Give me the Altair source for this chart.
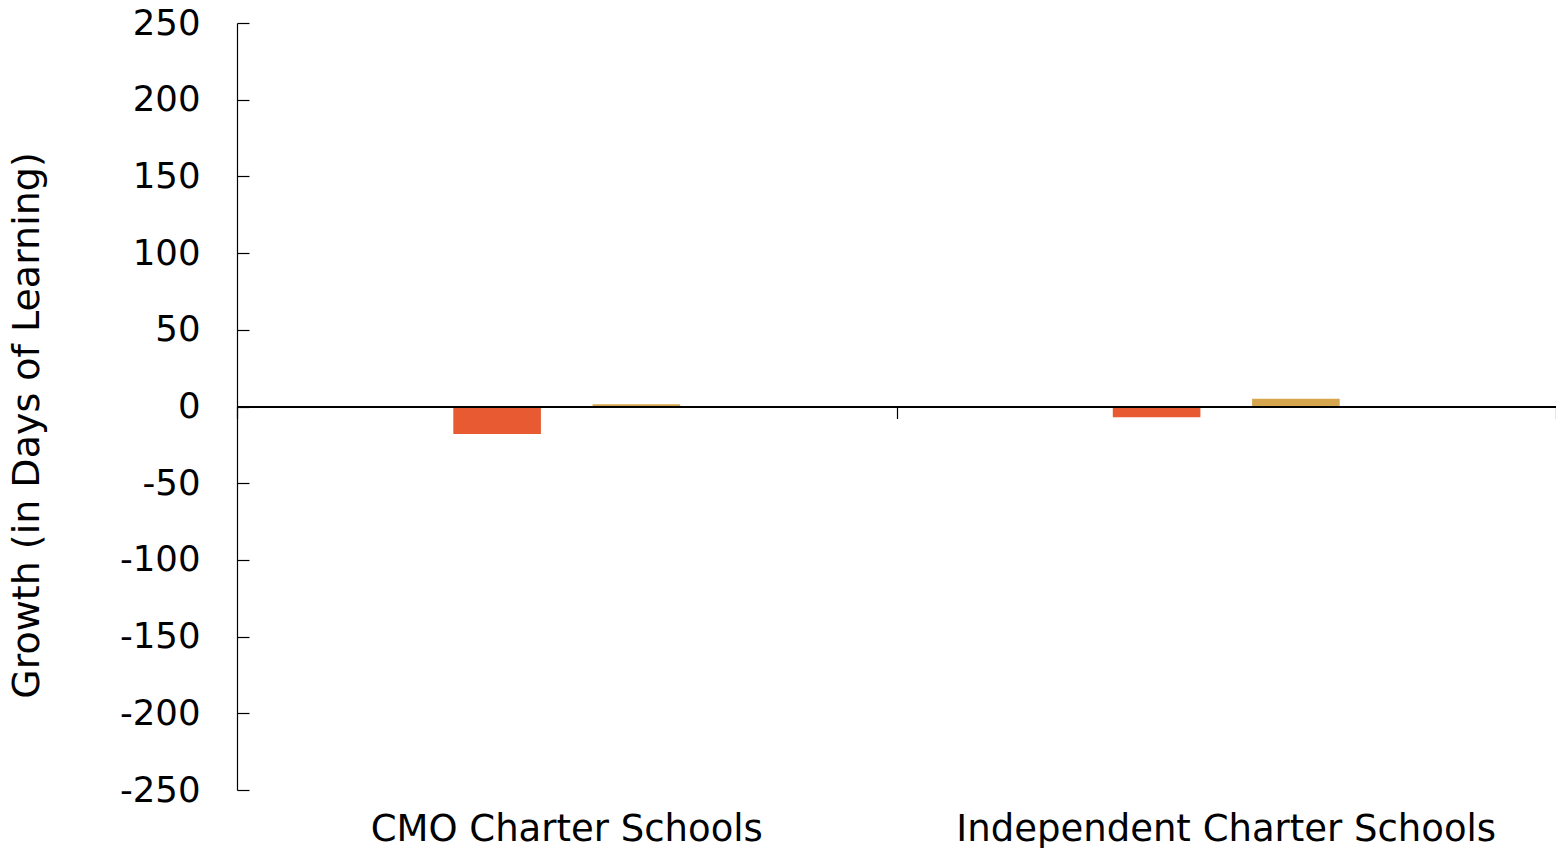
import altair as alt
import pandas as pd

categories = ["CMO Charter Schools", "Independent Charter Schools"]
series = ["Series 1", "Series 2", "Series 3", "Series 4"]
values_cmo = [0, -18, 1.5, 0]
values_ind = [0, -7, 5, 0]
colors = ["#4E79A7", "#E85A32", "#D5A64E", "#7F7F7F"]
y_ticks = [-250, -200, -150, -100, -50, 0, 50, 100, 150, 200, 250]

rows = []
for cat, vals in zip(categories, [values_cmo, values_ind]):
    for s, v in zip(series, vals):
        rows.append({"Category": cat, "Series": s, "Value": v})
df = pd.DataFrame(rows)

W, H = 1319, 767
FONT = "DejaVu Sans"

xscale = alt.Scale(paddingInner=0, paddingOuter=0)
yscale = alt.Scale(domain=[-250, 250], nice=False, zero=False)
xoff_scale = alt.Scale(domain=series, paddingInner=0.371, paddingOuter=0.553)

base = alt.Chart(df)

bars = base.mark_bar(cornerRadius=0).encode(
    x=alt.X("Category:N", sort=categories, scale=xscale, title=None,
            axis=alt.Axis(orient="bottom", domain=False, ticks=False, tickSize=0, grid=False,
                          labelPadding=50, labelBaseline="alphabetic",
                          labelFontSize=37, labelFont=FONT,
                          labelColor="black", labelAngle=0, labelLimit=1000)),
    xOffset=alt.XOffset("Series:N", scale=xoff_scale, sort=series),
    y=alt.Y("Value:Q", scale=yscale, title="Growth (in Days of Learning)",
            axis=alt.Axis(orient="left", domain=False, ticks=False, tickSize=0,
                          grid=False, values=y_ticks, labelPadding=37,
                          labelExpr="'' + datum.value",
                          labelFontSize=35.5, labelFont=FONT, labelColor="black",
                          titleFontSize=38, titleFont=FONT, titleFontWeight="normal",
                          titleColor="black", titleAngle=-90, titleX=-199, titleY=402,
                          titleBaseline="alphabetic", titleAlign="center")),
    color=alt.Color("Series:N", scale=alt.Scale(domain=series, range=colors), legend=None),
)

axes_layer = base.mark_bar(opacity=0).encode(
    x=alt.X("Category:N", sort=categories, scale=xscale, title=None,
            axis=alt.Axis(orient="bottom", offset=-H / 2, labels=False, domain=True,
                          domainColor="black", domainWidth=2, ticks=True, grid=False,
                          tickColor="black", tickWidth=1.2, tickSize=12,
                          tickBand="extent", zindex=2)),
    xOffset=alt.XOffset("Series:N", scale=xoff_scale, sort=series),
    y=alt.Y("Value:Q", scale=yscale, title=None,
            axis=alt.Axis(orient="right", offset=-W, labels=False, domain=True,
                          domainColor="black", domainWidth=1.2, ticks=True,
                          tickColor="black", tickWidth=1.2, tickSize=12,
                          values=y_ticks, grid=False, zindex=2)),
)

chart = (
    alt.layer(bars, axes_layer)
    .resolve_axis(x="independent", y="independent")
    .properties(
        width=W, height=H,
        autosize=alt.AutoSizeParams(type="none"),
        padding={"left": 229, "top": 15, "right": 0, "bottom": 58},
        view=alt.ViewBackground(strokeOpacity=0, strokeWidth=0, stroke="transparent"),
    )
    .configure_view(stroke="transparent", strokeWidth=0, strokeOpacity=0)
    .configure_axis(grid=False)
    .configure(background="white")
)

chart.save("out.html", embed_options={"renderer": "svg", "actions": False})
